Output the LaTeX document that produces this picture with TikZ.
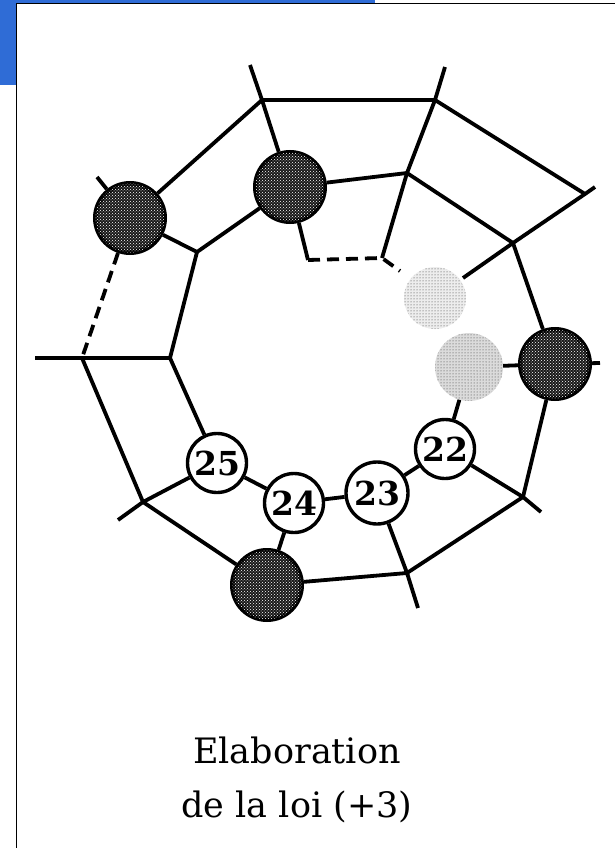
\documentclass[tikz,border=0pt]{standalone}
\usepackage{fontspec}
\setmainfont{DejaVu Serif}
\usepackage{tikz}
\usetikzlibrary{patterns}
\definecolor{barblue}{RGB}{47,108,214}

\begin{document}
\begin{tikzpicture}[x=1pt,y=-1pt,
  bond/.style={line width=3.8pt},
  brk/.style={line width=3.8pt,dash pattern=on 12pt off 7pt},
  num/.style={circle,draw,line width=3.4pt,fill=white,minimum size=#1,inner sep=0pt,
    font=\fontsize{33}{33}\selectfont\bfseries},
  num/.default=59pt,
  dark/.style={circle,draw,line width=5pt,fill=black!90,minimum size=69pt,inner sep=0pt,
    postaction={pattern=crosshatch dots,pattern color=white}},
  faint/.style={circle,minimum size=#1,inner sep=0pt,fill=black!14,
    postaction={pattern=dots,pattern color=black!80}},
  legend/.style={font=\fontsize{35}{35}\selectfont,anchor=base}]
\useasboundingbox (0,0) rectangle (615,848);
% window frame
\fill[barblue] (0,0) rectangle (16,85);
\fill[barblue] (0,0) rectangle (375,3.5);
\draw[line width=1.5pt] (16.5,848) -- (16.5,3.5) -- (615,3.5);
% ring vertices
\coordinate (A) at (262,100);  \coordinate (aT) at (250,65);
\coordinate (B) at (435,100);  \coordinate (bT) at (445,67);
\coordinate (H) at (585,194);  \coordinate (hT) at (595,187);
\coordinate (I) at (513,243);  \coordinate (iE) at (463,278);
\coordinate (J) at (407,173);
\coordinate (D) at (197,252);
\coordinate (E) at (170,358);
\coordinate (F) at (82,358);   \coordinate (fL) at (35,358);
\coordinate (G1) at (308,260); \coordinate (G2) at (382,258);
\coordinate (gE) at (400,271);
\coordinate (K) at (523,497);  \coordinate (kS) at (541,512);
\coordinate (L) at (407,573);  \coordinate (lS) at (418,608);
\coordinate (M) at (143,502);  \coordinate (mS) at (118,520);
\coordinate (c1T) at (97,177); \coordinate (c3R) at (600,363);
% sites
\node[dark] (c1) at (130,218) {};
\node[dark] (c2) at (290,187) {};
\node[dark] (c3) at (555,364) {};
\node[dark] (c4) at (267,585) {};
\node[faint=62pt,fill=black!7] (f1) at (435,298) {};
\node[faint=68pt] (f2) at (469,367) {};
\node[num] (n22) at (445,449) {22};
\node[num=62pt] (n23) at (377,493) {23};
\node[num] (n24) at (294,503) {24};
\node[num] (n25) at (217,463) {25};
% bonds
\draw[bond] (aT) -- (A) -- (B) -- (bT);
\draw[bond] (B) -- (H);
\draw[bond] (hT) -- (H) -- (I) -- (iE);
\draw[bond] (A) -- (c1);
\draw[bond] (A) -- (c2);
\draw[bond] (c1) -- (c1T);
\draw[bond] (c1) -- (D) -- (c2);
\draw[bond] (D) -- (E);
\draw[brk] (c1) -- (F);
\draw[bond] (fL) -- (F) -- (E);
\draw[bond] (c2) -- (G1);
\draw[brk] (G1) -- (G2) -- (gE);
\draw[bond] (B) -- (J) -- (G2);
\draw[bond] (c2) -- (J) -- (I) -- (c3);
\draw[bond] (c3) -- (c3R);
\draw[bond] (f2) -- (c3);
\draw[bond] (f2) -- (n22);
\draw[bond] (n22) -- (n23);
\draw[bond] (n23) -- (n24);
\draw[bond] (n24) -- (n25);
\draw[bond] (n22) -- (K) -- (kS);
\draw[bond] (c3) -- (K) -- (L) -- (lS);
\draw[bond] (n23) -- (L) -- (c4);
\draw[bond] (n24) -- (c4);
\draw[bond] (E) -- (n25) -- (M) -- (mS);
\draw[bond] (F) -- (M) -- (c4);
% caption
\node[legend] (title) at (297,763) {Elaboration};
\node[legend] (subtitle) at (297,817) {de la loi (+3)};
\end{tikzpicture}
\end{document}
